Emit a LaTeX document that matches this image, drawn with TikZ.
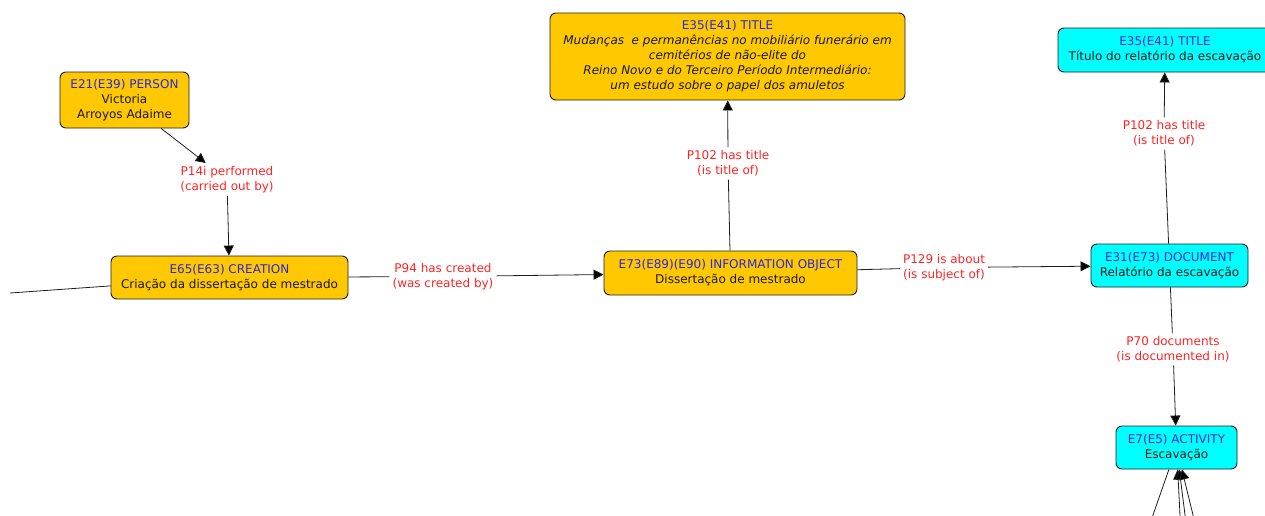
\documentclass[tikz,border=0pt]{standalone}
\usepackage{fontspec}
\setmainfont{DejaVu Sans}
\usetikzlibrary{arrows.meta}
\definecolor{conceptorange}{RGB}{255,200,0}
\definecolor{conceptcyan}{RGB}{0,255,255}
\definecolor{typeblue}{RGB}{40,40,220}
\definecolor{linkred}{RGB}{255,35,35}
\definecolor{edgegray}{RGB}{30,30,30}
\begin{document}
\begin{tikzpicture}[x=1pt,y=-1pt,
  concept/.style={draw=edgegray, line width=0.9pt, rounded corners=6pt, align=center,
    inner sep=0pt, font=\fontsize{12}{15}\selectfont, text=black!90},
  orangebox/.style={concept, fill=conceptorange},
  cyanbox/.style={concept, fill=conceptcyan},
  linklabel/.style={align=center, inner sep=3pt, text=linkred, font=\fontsize{12}{15}\selectfont},
  link/.style={draw=edgegray, line width=0.8pt},
  arrowlink/.style={link, -{Triangle[length=10pt,width=10pt,fill=black]}},
]
\useasboundingbox (0,0) rectangle (1265,515);
\clip (0,0) rectangle (1265,515);

% concepts
\node[orangebox, minimum width=129pt, minimum height=56pt] (person) at (124.5,100)
  {\textcolor{typeblue}{E21(E39) PERSON}\\Victoria\\Arroyos Adaime};
\node[orangebox, minimum width=237pt, minimum height=43pt] (creation) at (229.5,277.5)
  {\textcolor{typeblue}{E65(E63) CREATION}\\Criação da dissertação de mestrado};
\node[orangebox, minimum width=355pt, minimum height=87pt] (title) at (727.5,56.5)
  {\textcolor{typeblue}{E35(E41) TITLE}\\
   \itshape Mudanças~ e permanências no mobiliário funerário em\\
   \itshape cemitérios de não-elite do\\
   \itshape Reino Novo e do Terceiro Período Intermediário:\\
   \itshape um estudo sobre o papel dos amuletos};
\node[orangebox, minimum width=253pt, minimum height=44pt] (info) at (730.5,273)
  {\textcolor{typeblue}{E73(E89)(E90) INFORMATION OBJECT}\\Dissertação de mestrado};
\node[cyanbox, minimum width=214pt, minimum height=44pt] (rtitle) at (1165,50)
  {\textcolor{typeblue}{E35(E41) TITLE}\\Título do relatório da escavação};
\node[cyanbox, minimum width=157pt, minimum height=43pt] (doc) at (1169.5,265.5)
  {\textcolor{typeblue}{E31(E73) DOCUMENT}\\Relatório da escavação};
\node[cyanbox, minimum width=121pt, minimum height=43pt] (activity) at (1176.5,447.5)
  {\textcolor{typeblue}{E7(E5) ACTIVITY}\\Escavação};

% link labels
\node[linklabel] (lperf) at (227,179.5) {P14i performed\\ (carried out by)};
\node[linklabel] (lcreated) at (443,276.5) {P94 has created\\(was created by)};
\node[linklabel] (ltitle) at (728,163.5) {P102 has title\\ (is title of)};
\node[linklabel] (labout) at (944,267.5) {P129 is about\\(is subject of)};
\node[linklabel] (lrtitle) at (1164,133.5) {P102 has title\\ (is title of)};
\node[linklabel] (ldoc) at (1173,349.5) {P70 documents\\(is documented in)};

% connectors
\draw[arrowlink] (person) -- (lperf);
\draw[arrowlink] (lperf) -- (creation);
\draw[link] (creation) -- (lcreated);
\draw[arrowlink] (lcreated) -- (info);
\draw[link] (info) -- (ltitle);
\draw[arrowlink] (ltitle) -- (title);
\draw[link] (info) -- (labout);
\draw[arrowlink] (labout) -- (doc);
\draw[link] (doc) -- (lrtitle);
\draw[arrowlink] (lrtitle) -- (rtitle);
\draw[link] (doc) -- (ldoc);
\draw[arrowlink] (ldoc) -- (activity);

% connectors reaching in from outside the frame
\coordinate (west) at (10,293);
\draw[link] (west) -- (creation);
\coordinate (b1) at (1184.4,600);
\coordinate (b2) at (1195.7,600);
\coordinate (b3) at (1213.8,600);
\coordinate (bout) at (1123.4,600);
\draw[arrowlink] (b1) -- (activity);
\draw[arrowlink] (b2) -- (activity);
\draw[arrowlink] (b3) -- (activity);
\draw[link] (activity) -- (bout);
\end{tikzpicture}
\end{document}
